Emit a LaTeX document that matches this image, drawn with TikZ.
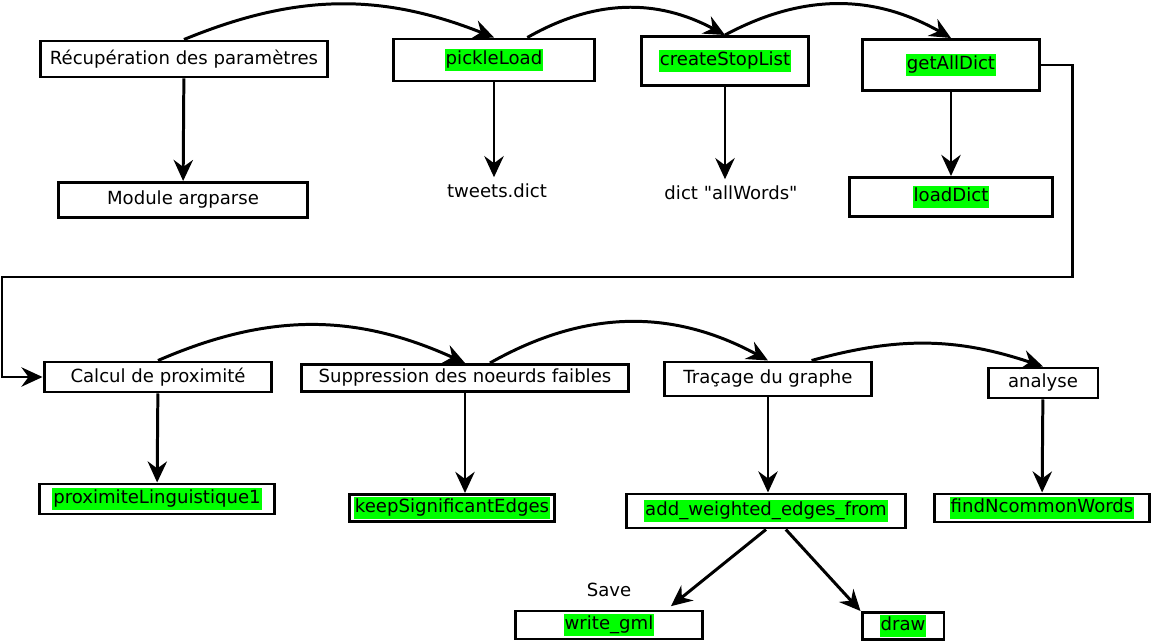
\documentclass[tikz,border=0pt]{standalone}
\usepackage{fontspec}
\newfontfamily\dejavu{DejaVu Sans}
\usepackage{color}
\usetikzlibrary{arrows.meta}
\setlength{\fboxsep}{0.5pt}

\begin{document}
\begin{tikzpicture}[x=0.02cm,y=0.02cm,->,>={Stealth[length=12pt,width=11pt,inset=4pt]},
		line width=1.7pt,every node/.style={font=\dejavu\fontsize{10.3}{11.5}\selectfont},
		box node/.style={rectangle,draw,inner sep=0pt},
		text node/.style={rectangle,inner sep=3pt}]
	\useasboundingbox (0,0) rectangle (1154,-642);

	\node[box node, minimum width=5.76cm, minimum height=0.72cm] (1) at (184,-59) {Récupération des paramètres};
	\node[box node, minimum width=4.02cm, minimum height=0.84cm] (2) at (494,-60) {\colorbox{green}{\strut pickleLoad}};
	\node[box node, minimum width=3.36cm, minimum height=0.98cm] (3) at (725,-61) {\colorbox{green}{\strut createStopList}};
	\node[box node, minimum width=3.54cm, minimum height=1.02cm] (4) at (951,-65) {\colorbox{green}{\strut getAllDict}};
	\node[box node, minimum width=5.00cm, minimum height=0.70cm] (5) at (183,-200) {Module argparse};
	\node[text node] (6) at (497,-191) {tweets.dict};
	\node[text node] (7) at (731,-193) {dict "allWords"};
	\node[box node, minimum width=4.08cm, minimum height=0.78cm] (8) at (951,-197) {\colorbox{green}{\strut loadDict}};

	\node[box node, minimum width=4.56cm, minimum height=0.60cm] (9) at (158,-377) {Calcul de proximité};
	\node[box node, minimum width=6.56cm, minimum height=0.54cm] (10) at (465,-378) {Suppression des noeurds faibles};
	\node[box node, minimum width=4.16cm, minimum height=0.68cm] (11) at (768,-379) {Traçage du graphe};
	\node[box node, minimum width=2.20cm, minimum height=0.60cm] (12) at (1043,-383) {analyse};
	\node[box node, minimum width=4.70cm, minimum height=0.60cm] (13) at (157,-499) {\colorbox{green}{\strut proximiteLinguistique1}};
	\node[box node, minimum width=4.12cm, minimum height=0.54cm] (14) at (452,-508) {\colorbox{green}{\strut keepSignificantEdges}};
	\node[box node, minimum width=5.58cm, minimum height=0.68cm] (15) at (766,-511) {\colorbox{green}{\strut add\_weighted\_edges\_from}};
	\node[box node, minimum width=4.32cm, minimum height=0.56cm] (16) at (1042,-508) {\colorbox{green}{\strut findNcommonWords}};
	\node[box node, minimum width=3.76cm, minimum height=0.56cm] (17) at (609,-625) {\colorbox{green}{\strut write\_gml}};
	\node[box node, minimum width=1.64cm, minimum height=0.54cm] (18) at (903,-626) {\colorbox{green}{\strut draw}};
	\node[text node] (19) at (609,-590) {Save};

	\path
	(1.north) edge[bend left=22] (2.north)
	(2.34) edge[bend left=29] (3.north)
	(3.north) edge[bend left=29] (4.north)
	(1) edge (5)
	(2.south) edge (2.south |- 6.north)
	(3.south) edge (3.south |- 7.north)
	(4) edge (8)
	(9.north) edge[bend left=24] (10.north)
	(10.31) edge[bend left=29] (11.north)
	(11.23) edge[bend left=17] (12.north)
	(9) edge (13)
	(10.south) edge (10.south |- 14.north)
	(11.south) edge (11.south |- 15.north)
	(12) edge (16)
	(15.south) edge[shorten >=3pt] (17.15)
	(15.-43) edge (18.north west);

	\draw (4.east) -| (1072,-277) -| (2,-377) -- (9.west);
\end{tikzpicture}
\end{document}
